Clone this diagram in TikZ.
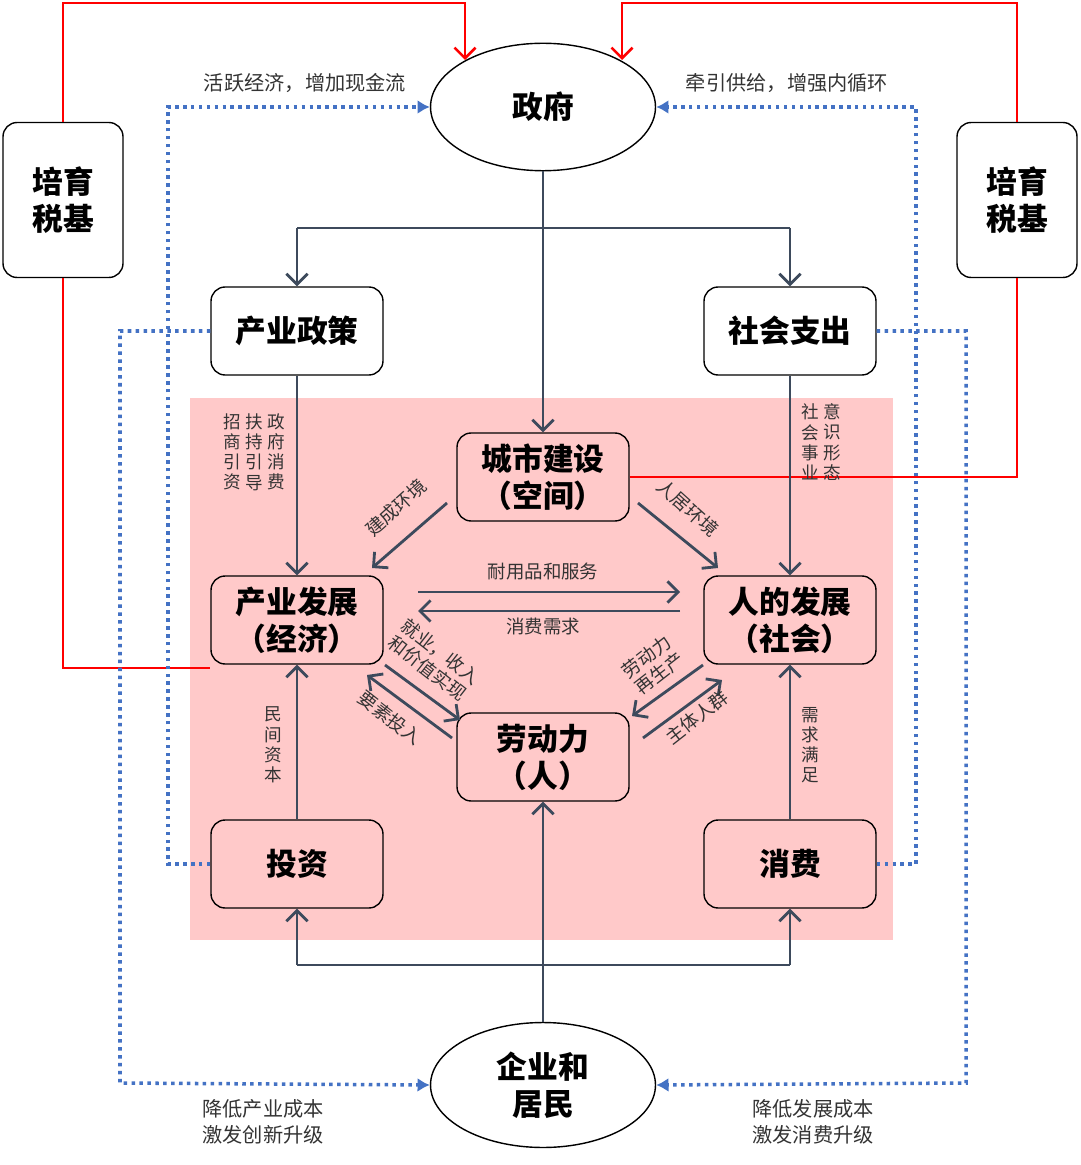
\documentclass[tikz,border=0pt]{standalone}
\usepackage{fontspec}
\setmainfont{Noto Sans CJK SC}
\usetikzlibrary{arrows.meta,shapes.geometric,positioning}
\definecolor{darkline}{HTML}{3D4A5C}
\definecolor{dotblue}{HTML}{4472C4}
\definecolor{pinkbg}{HTML}{FFC9C9}
\tikzset{
  box/.style={draw,thick,rounded corners=8pt,minimum width=3.44cm,minimum height=1.76cm,align=center,font=\fontsize{17.5}{21}\selectfont\bfseries,fill=white},
  pbox/.style={box,fill=pinkbg},
  oval/.style={draw,thick,ellipse,minimum width=4.5cm,minimum height=2.55cm,align=center,font=\fontsize{17.5}{21}\selectfont\bfseries,fill=white},
  flow/.style={darkline,line width=1.6pt,-{Straight Barb[length=6pt,width=12pt]}},
  redline/.style={red,line width=1.5pt},
  dotline/.style={dotblue,line width=2pt,dash pattern=on 2pt off 2.5pt,-{Latex[length=7pt,width=8pt]}},
  lbl/.style={font=\fontsize{10.5}{12}\selectfont,text=black!80,align=center,inner sep=1pt},
  vlbl/.style={lbl,font=\fontsize{10}{11.5}\selectfont}
}
\begin{document}
\begin{tikzpicture}[x=0.02cm,y=-0.02cm]
  \useasboundingbox (0,0) rectangle (1080,1165);
  \fill[pinkbg] (190,398) rectangle (893,940);

  % nodes
  \node[oval] (gov) at (543,107) {政府};
  \node[oval,minimum height=2.5cm] (firm) at (543,1085) {企业和\\居民};
  \node[box,minimum width=2.4cm,minimum height=3.1cm] (taxL) at (63,200) {培育\\税基};
  \node[box,minimum width=2.4cm,minimum height=3.1cm] (taxR) at (1017,200) {培育\\税基};
  \node[box] (policy) at (297,331) {产业政策};
  \node[box] (spend) at (790,331) {社会支出};
  \node[pbox] (city) at (543,477) {城市建设\\（空间）};
  \node[pbox] (indus) at (297,620) {产业发展\\（经济）};
  \node[pbox] (human) at (790,620) {人的发展\\（社会）};
  \node[pbox] (labor) at (543,757) {劳动力\\（人）};
  \node[pbox] (invest) at (297,864) {投资};
  \node[pbox] (consume) at (790,864) {消费};

  % red loops
  \coordinate (govL) at (465,60);
  \coordinate (govR) at (622,60);
  \draw[redline,-{Straight Barb[length=6pt,width=12pt]}] (taxL.north) |- (465,3) -- (govL);
  \draw[redline,-{Straight Barb[length=6pt,width=12pt]}] (taxR.north) |- (622,3) -- (govR);
  \draw[redline] (taxL.south) |- (indus.west |- 0,668);
  \draw[redline] (city.east) -| (taxR.south);

  % blue dotted loops
  \draw[dotline] (policy.west) -| (120,1083) -- (firm.west);
  \draw[dotline] (invest.west) -| (168,107) -- (gov.west);
  \draw[dotline] (consume.east) -| (916,107) -- (gov.east);
  \draw[dotline] (spend.east) -| (966,1083) -- (firm.east);
  \node[lbl,font=\fontsize{11.5}{15}\selectfont] at (305,83) {活跃经济，增加现金流};
  \node[lbl,font=\fontsize{11.5}{15}\selectfont] at (787,83) {牵引供给，增强内循环};
  \node[lbl,font=\fontsize{11.5}{15}\selectfont] at (263,1122) {降低产业成本\\激发创新升级};
  \node[lbl,font=\fontsize{11.5}{15}\selectfont] at (813,1122) {降低发展成本\\激发消费升级};

  % government branches
  \draw[flow] (gov.south) -- (city.north);
  \draw[darkline,line width=1.6pt] (297,228) -- (790,228);
  \draw[flow] (297,228) -- (policy.north);
  \draw[flow] (790,228) -- (spend.north);
  \draw[flow] (policy.south) -- (indus.north);
  \draw[flow] (spend.south) -- (human.north);
  \node[vlbl] at (276,452) {政\\府\\消\\费};
  \node[vlbl] at (254,452) {扶\\持\\引\\导};
  \node[vlbl] at (232,452) {招\\商\\引\\资};
  \node[vlbl] at (832,442) {意\\识\\形\\态};
  \node[vlbl] at (810,442) {社\\会\\事\\业};

  % firm branches
  \draw[flow] (firm.north) -- (labor.south);
  \draw[darkline,line width=1.6pt] (297,965) -- (790,965);
  \draw[flow] (297,965) -- (invest.south);
  \draw[flow] (790,965) -- (consume.south);
  \draw[flow] (invest.north) -- (indus.south);
  \draw[flow] (consume.north) -- (human.south);
  \node[vlbl] at (273,745) {民\\间\\资\\本};
  \node[vlbl] at (810,745) {需\\求\\满\\足};

  % inner flows
  \draw[flow] (447,503) -- (372,568);
  \node[lbl,rotate=42] at (396,508) {建成环境};
  \draw[flow] (638,503) -- (718,568);
  \node[lbl,rotate=-42] at (688,508) {人居环境};
  \draw[flow] (418,592) -- (680,592);
  \node[lbl] at (543,572) {耐用品和服务};
  \draw[flow] (680,611) -- (418,611);
  \node[lbl] at (543,626) {消费需求};
  \draw[flow] (385,665) -- (460,720);
  \node[lbl,rotate=-38] at (434,660) {就业，收入\\和价值实现};
  \draw[flow] (452,738) -- (367,675);
  \node[lbl,rotate=-38] at (390,718) {要素投入};
  \draw[flow] (703,665) -- (632,716);
  \node[lbl,rotate=38] at (653,665) {劳动力\\再生产};
  \draw[flow] (643,738) -- (722,680);
  \node[lbl,rotate=38] at (697,717) {主体人群};
\end{tikzpicture}
\end{document}
